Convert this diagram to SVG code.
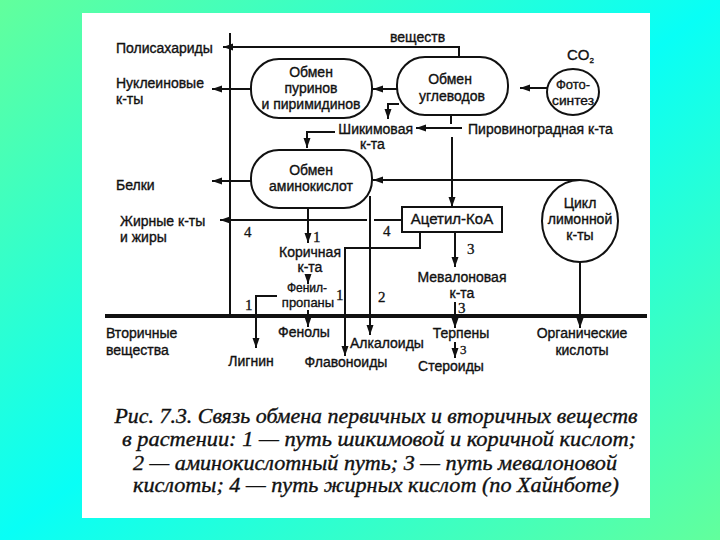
<svg xmlns="http://www.w3.org/2000/svg" width="720" height="540" viewBox="0 0 720 540">
<defs>
<linearGradient id="bg" x1="0" y1="0" x2="1" y2="1">
<stop offset="0" stop-color="#62ff9c"/>
<stop offset="0.5" stop-color="#08fff6"/>
<stop offset="1" stop-color="#62ff9c"/>
</linearGradient>
<marker id="ah" viewBox="0 0 10 8" refX="10" refY="4" markerWidth="10" markerHeight="8" markerUnits="userSpaceOnUse" orient="auto">
<path d="M0,0.5 L10,4 L0,7.5 z" fill="#111"/>
</marker>
<style>
.ln{fill:none;stroke:#111;stroke-width:2}
.ar{fill:none;stroke:#111;stroke-width:2;marker-end:url(#ah)}
.nd{fill:#fff;stroke:#111;stroke-width:2}
.t{font-family:"Liberation Sans",Arial,sans-serif;font-size:14px;fill:#111;stroke:#111;stroke-width:0.35}
.c{text-anchor:middle}
.n{font-family:"Liberation Serif","Times New Roman",serif;font-size:15px;fill:#111;stroke:#111;stroke-width:0.3}
.cap{font-family:"Liberation Serif","Times New Roman",serif;font-style:italic;font-size:20px;fill:#111;stroke:#111;stroke-width:0.35;text-anchor:middle}
</style>
</defs>
<rect x="0" y="0" width="720" height="540" fill="url(#bg)"/>
<rect x="82" y="13" width="568" height="505" fill="#fff"/>

<g id="connectors">
<path class="ln" d="M230,33 V316"/>
<path class="ar" d="M459,57 V47 H223"/>
<path class="ar" d="M250,89 H212"/>
<path class="ar" d="M397,89 H373"/>
<path class="ar" d="M547,88 H520"/>
<path class="ar" d="M399,104 H388 V119"/>
<path class="ln" d="M451,115 V124"/>
<path class="ar" d="M462,128 H416"/>
<path class="ar" d="M335,132 H307 V148"/>
<path class="ar" d="M452,137 V207"/>
<path class="ar" d="M251,181 H212"/>
<path class="ar" d="M580,180 H373"/>
<path class="ln" d="M402,220 H374"/>
<path class="ar" d="M367,220 H220"/>
<path class="ar" d="M420,232 V248 H345 V356"/>
<path class="ar" d="M308,208 V243"/>
<path class="ar" d="M308,274 V284"/>
<path class="ar" d="M277,296 H256 V348"/>
<path class="ar" d="M308,310 V327"/>
<path class="ar" d="M370,196 V335"/>
<path class="ar" d="M455,232 V267"/>
<path class="ar" d="M455,302 V328"/>
<path class="ar" d="M455,342 V358"/>
<path class="ar" d="M580,262 V328"/>
<path fill="none" stroke="#111" stroke-width="4" d="M105,316 H647"/>
</g>

<g id="node-purines">
<rect class="nd" x="251" y="59" width="121" height="59" rx="28"/>
<text class="t c" x="311" y="77">Обмен</text>
<text class="t c" x="311" y="93">пуринов</text>
<text class="t c" x="311" y="109">и пиримидинов</text>
</g>
<g id="node-carbs">
<rect class="nd" x="397" y="57" width="111" height="58" rx="28"/>
<text class="t c" x="450" y="84">Обмен</text>
<text class="t c" x="452" y="101">углеводов</text>
</g>
<g id="node-photo">
<ellipse class="nd" cx="573" cy="92" rx="26" ry="23"/>
<text class="t c" x="573" y="89" style="font-size:13px">Фото-</text>
<text class="t c" x="573" y="105" style="font-size:13px" textLength="42" lengthAdjust="spacingAndGlyphs">синтез</text>
</g>
<g id="node-amino">
<rect class="nd" x="251" y="150" width="121" height="58" rx="28"/>
<text class="t c" x="311" y="175">Обмен</text>
<text class="t c" x="311" y="191">аминокислот</text>
</g>
<g id="node-acetyl">
<rect class="nd" x="402" y="207" width="100" height="25"/>
<text class="t c" x="452" y="224" style="font-size:15px">Ацетил-КоА</text>
</g>
<g id="node-citric">
<ellipse class="nd" cx="580" cy="221" rx="38" ry="41"/>
<text class="t c" x="580" y="208">Цикл</text>
<text class="t c" x="580" y="224">лимонной</text>
<text class="t c" x="580" y="240">к-ты</text>
</g>

<g id="labels">
<text class="t" x="390" y="42">веществ</text>
<text class="t" x="567" y="60" style="font-size:15px">CO<tspan dy="3" style="font-size:8px">2</tspan></text>
<text class="t" x="116" y="53">Полисахариды</text>
<text class="t" x="116" y="88">Нуклеиновые</text>
<text class="t" x="116" y="104">к-ты</text>
<text class="t" x="413" y="134" text-anchor="end">Шикимовая</text>
<text class="t" x="360" y="149">к-та</text>
<text class="t" x="468" y="134">Пировиноградная к-та</text>
<text class="t" x="116" y="190">Белки</text>
<text class="t" x="120" y="226">Жирные к-ты</text>
<text class="t" x="120" y="242">и жиры</text>
<text class="n" x="244" y="237">4</text>
<text class="n" x="383" y="236">4</text>
<text class="n" x="313" y="242">1</text>
<text class="t c" x="310" y="257">Коричная</text>
<text class="t c" x="310" y="272">к-та</text>
<text class="t c" x="307" y="292" style="font-size:12px">Фенил-</text>
<text class="t c" x="308" y="307" style="font-size:13px">пропаны</text>
<text class="n" x="245" y="310">1</text>
<text class="n" x="336" y="300">1</text>
<text class="n" x="378" y="302">2</text>
<text class="n" x="467" y="254">3</text>
<text class="t c" x="462" y="282">Мевалоновая</text>
<text class="t c" x="462" y="298">к-та</text>
<text class="n" x="458" y="313">3</text>
<text class="t c" x="461" y="338">Терпены</text>
<text class="n" x="460" y="354" style="font-size:13px">3</text>
<text class="t c" x="451" y="371">Стероиды</text>
<text class="t" x="106" y="338">Вторичные</text>
<text class="t" x="106" y="355">вещества</text>
<text class="t c" x="304" y="337">Фенолы</text>
<text class="t c" x="251" y="366">Лигнин</text>
<text class="t" x="350" y="348">Алкалоиды</text>
<text class="t c" x="346" y="367">Флавоноиды</text>
<text class="t c" x="582" y="338">Органические</text>
<text class="t c" x="582" y="355">кислоты</text>
</g>

<g id="caption">
<text class="cap" x="376" y="423" textLength="523" lengthAdjust="spacingAndGlyphs">Рис. 7.3. Связь обмена первичных и вторичных веществ</text>
<text class="cap" x="379" y="446" textLength="514" lengthAdjust="spacingAndGlyphs">в растении: 1 — путь шикимовой и коричной кислот;</text>
<text class="cap" x="375" y="470" textLength="484" lengthAdjust="spacingAndGlyphs">2 — аминокислотный путь; 3 — путь мевалоновой</text>
<text class="cap" x="376" y="492" textLength="486" lengthAdjust="spacingAndGlyphs">кислоты; 4 — путь жирных кислот (по Хайнботе)</text>
</g>
</svg>
